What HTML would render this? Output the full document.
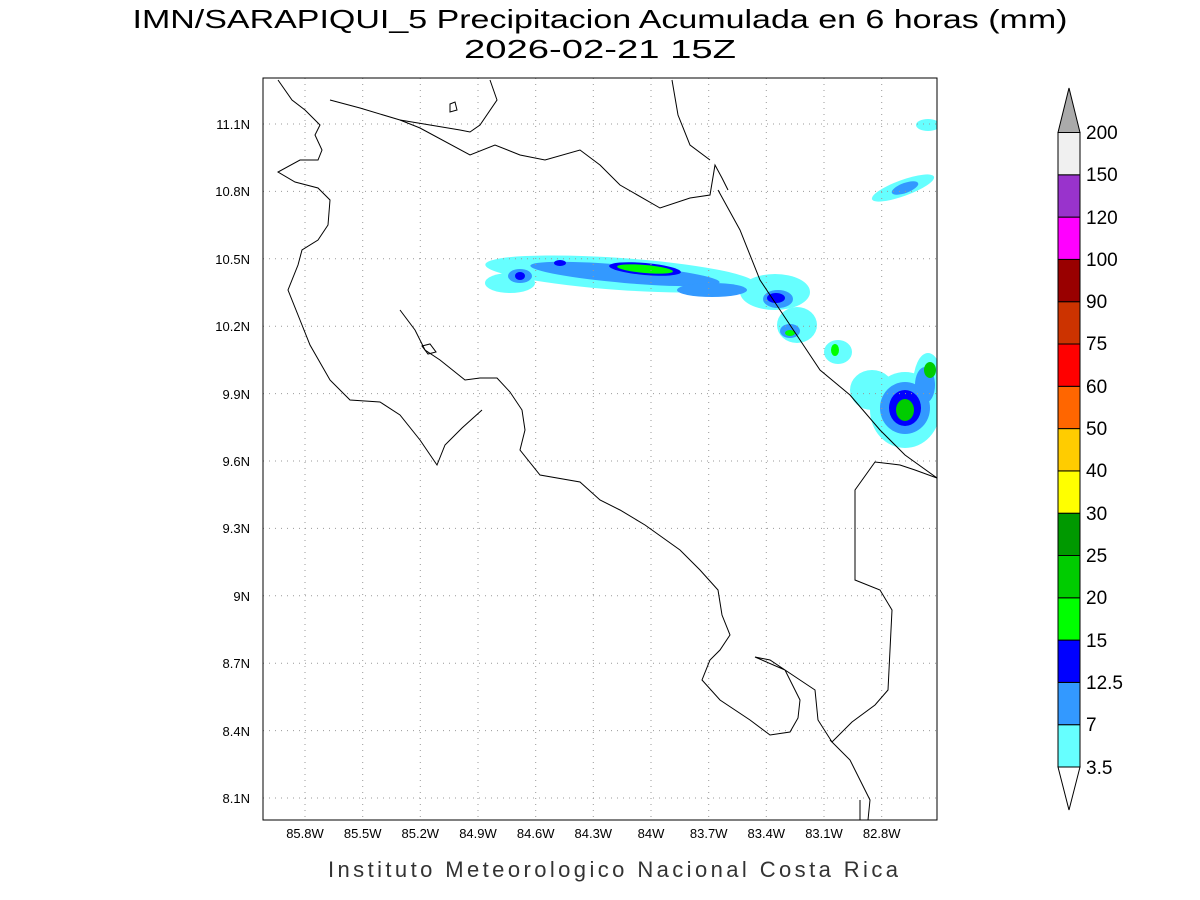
<!DOCTYPE html>
<html><head><meta charset="utf-8"><style>
html,body{margin:0;padding:0;background:#fff;}
svg{display:block;font-family:"Liberation Sans",sans-serif;}
</style></head><body>
<svg width="1200" height="900" viewBox="0 0 1200 900">
<text x="600" y="28" text-anchor="middle" font-size="26" fill="#000" textLength="935" lengthAdjust="spacingAndGlyphs">IMN/SARAPIQUI_5 Precipitacion Acumulada en 6 horas (mm)</text>
<text x="600" y="58" text-anchor="middle" font-size="26" fill="#000" textLength="272" lengthAdjust="spacingAndGlyphs">2026-02-21 15Z</text>
<defs><clipPath id="c"><rect x="263" y="78" width="674" height="742"/></clipPath></defs>
<g clip-path="url(#c)">
<g>
<ellipse cx="620" cy="274" rx="135" ry="16" transform="rotate(4 620 274)" fill="#66ffff"/>
<ellipse cx="510" cy="283" rx="25" ry="10" fill="#66ffff"/>
<ellipse cx="775" cy="292" rx="35" ry="18" fill="#66ffff"/>
<ellipse cx="797" cy="325" rx="20" ry="18" fill="#66ffff"/>
<ellipse cx="838" cy="352" rx="14" ry="12" fill="#66ffff"/>
<ellipse cx="872" cy="390" rx="22" ry="20" fill="#66ffff"/>
<ellipse cx="905" cy="410" rx="35" ry="38" fill="#66ffff"/>
<ellipse cx="928" cy="385" rx="15" ry="32" fill="#66ffff"/>
<ellipse cx="903" cy="188" rx="33" ry="8" transform="rotate(-20 903 188)" fill="#66ffff"/>
<ellipse cx="928" cy="125" rx="12" ry="6" fill="#66ffff"/>
<ellipse cx="625" cy="274" rx="95" ry="9" transform="rotate(5 625 274)" fill="#3399ff"/>
<ellipse cx="520" cy="276" rx="12" ry="7" fill="#3399ff"/>
<ellipse cx="712" cy="290" rx="35" ry="7" fill="#3399ff"/>
<ellipse cx="778" cy="299" rx="15" ry="9" fill="#3399ff"/>
<ellipse cx="790" cy="331" rx="10" ry="7" fill="#3399ff"/>
<ellipse cx="905" cy="408" rx="25" ry="26" fill="#3399ff"/>
<ellipse cx="925" cy="385" rx="10" ry="18" fill="#3399ff"/>
<ellipse cx="905" cy="188" rx="14" ry="5" fill="#3399ff" transform="rotate(-20 905 188)"/>
<ellipse cx="645" cy="269" rx="36" ry="6" transform="rotate(5 645 269)" fill="#0000ff"/>
<ellipse cx="520" cy="276" rx="5" ry="4" fill="#0000ff"/>
<ellipse cx="560" cy="263" rx="6" ry="3" fill="#0000ff"/>
<ellipse cx="776" cy="298" rx="9" ry="5" fill="#0000ff"/>
<ellipse cx="905" cy="408" rx="16" ry="18" fill="#0000ff"/>
<ellipse cx="645" cy="269" rx="28" ry="4" transform="rotate(5 645 269)" fill="#00ff00"/>
<ellipse cx="905" cy="410" rx="9" ry="11" fill="#00cc00"/>
<ellipse cx="835" cy="350" rx="4" ry="6" fill="#00ff00"/>
<ellipse cx="790" cy="333" rx="5" ry="3" fill="#00ff00"/>
<ellipse cx="930" cy="370" rx="6" ry="8" fill="#00cc00"/>
</g>
<g stroke="#999" stroke-width="1" stroke-dasharray="1,5">
<line x1="305" y1="78" x2="305" y2="820"/><line x1="362.7" y1="78" x2="362.7" y2="820"/><line x1="420.3" y1="78" x2="420.3" y2="820"/><line x1="478" y1="78" x2="478" y2="820"/><line x1="535.7" y1="78" x2="535.7" y2="820"/><line x1="593.3" y1="78" x2="593.3" y2="820"/><line x1="651" y1="78" x2="651" y2="820"/><line x1="708.7" y1="78" x2="708.7" y2="820"/><line x1="766.3" y1="78" x2="766.3" y2="820"/><line x1="824" y1="78" x2="824" y2="820"/><line x1="881.7" y1="78" x2="881.7" y2="820"/>
<line x1="263" y1="124" x2="937" y2="124"/><line x1="263" y1="191.4" x2="937" y2="191.4"/><line x1="263" y1="258.8" x2="937" y2="258.8"/><line x1="263" y1="326.2" x2="937" y2="326.2"/><line x1="263" y1="393.6" x2="937" y2="393.6"/><line x1="263" y1="461" x2="937" y2="461"/><line x1="263" y1="528.4" x2="937" y2="528.4"/><line x1="263" y1="595.8" x2="937" y2="595.8"/><line x1="263" y1="663.2" x2="937" y2="663.2"/><line x1="263" y1="730.6" x2="937" y2="730.6"/><line x1="263" y1="798" x2="937" y2="798"/>
</g>
<g fill="none" stroke="#000" stroke-width="1">
<polyline points="278,80 292,100 305,110 320,125 315,135 322,150 318,160 300,160 278,172 295,182 318,188 330,200 328,225 318,240 302,250 298,265 288,290 300,320 310,345 330,380 350,400 380,402 400,415 420,440 437,465 445,445 462,428 482,410"/>
<polyline points="400,310 415,330 425,350 440,360 465,380 480,378 497,378 510,392 522,410 525,430 520,450 540,475 580,482 600,500 620,510 645,525 680,550 700,570 718,590 722,615 730,635 720,650 710,660 702,680 720,700 750,720 770,735 790,732 798,718 800,700 785,670 755,657 770,660 800,680 815,690 818,720 832,742 852,722 875,705 888,690 892,610 880,590 855,580 855,490 875,462 900,465 915,470 937,478"/>
<polyline points="330,100 360,108 400,120 420,128 470,155 495,145 520,155 545,160 580,150 600,165 620,185 660,208 690,198 710,195 715,165 722,178 728,190"/>
<polyline points="490,80 497,100 480,125 470,132 460,130 430,125 400,120"/>
<polyline points="672,80 678,115 690,145 710,160"/>
<polyline points="718,190 740,230 760,280 780,310 800,340 820,370 850,395 880,430 905,455 937,478"/>
<polyline points="830,740 850,760 870,800 868,820"/>
<polyline points="860,800 860,820"/>
<polygon points="422,346 430,344 436,352 428,354"/>
<polygon points="450,104 455,102 457,110 450,112"/>
</g>
</g>
<rect x="263" y="78" width="674" height="742" fill="none" stroke="#000" stroke-width="1"/>
<g font-size="13" fill="#000" text-anchor="end">
<text x="250" y="129">11.1N</text><text x="250" y="196">10.8N</text><text x="250" y="264">10.5N</text><text x="250" y="331">10.2N</text><text x="250" y="399">9.9N</text><text x="250" y="466">9.6N</text><text x="250" y="533">9.3N</text><text x="250" y="601">9N</text><text x="250" y="668">8.7N</text><text x="250" y="736">8.4N</text><text x="250" y="803">8.1N</text>
</g>
<g font-size="13" fill="#000" text-anchor="middle">
<text x="305" y="838">85.8W</text><text x="362.7" y="838">85.5W</text><text x="420.3" y="838">85.2W</text><text x="478" y="838">84.9W</text><text x="535.7" y="838">84.6W</text><text x="593.3" y="838">84.3W</text><text x="651" y="838">84W</text><text x="708.7" y="838">83.7W</text><text x="766.3" y="838">83.4W</text><text x="824" y="838">83.1W</text><text x="881.7" y="838">82.8W</text>
</g>
<text x="613" y="877" text-anchor="middle" font-size="22" fill="#333" textLength="570">Instituto Meteorologico Nacional Costa Rica</text>
<g stroke="#000" stroke-width="1">
<polygon points="1058,767 1080,767 1069,810" fill="#fff"/>
<rect x="1058" y="724.7" width="22" height="42.3" fill="#66ffff"/>
<rect x="1058" y="682.4" width="22" height="42.3" fill="#3399ff"/>
<rect x="1058" y="640.1" width="22" height="42.3" fill="#0000ff"/>
<rect x="1058" y="597.8" width="22" height="42.3" fill="#00ff00"/>
<rect x="1058" y="555.5" width="22" height="42.3" fill="#00cc00"/>
<rect x="1058" y="513.2" width="22" height="42.3" fill="#009900"/>
<rect x="1058" y="470.9" width="22" height="42.3" fill="#ffff00"/>
<rect x="1058" y="428.6" width="22" height="42.3" fill="#ffcc00"/>
<rect x="1058" y="386.3" width="22" height="42.3" fill="#ff6600"/>
<rect x="1058" y="344" width="22" height="42.3" fill="#ff0000"/>
<rect x="1058" y="301.7" width="22" height="42.3" fill="#cc3300"/>
<rect x="1058" y="259.4" width="22" height="42.3" fill="#990000"/>
<rect x="1058" y="217.1" width="22" height="42.3" fill="#ff00ff"/>
<rect x="1058" y="174.8" width="22" height="42.3" fill="#9933cc"/>
<rect x="1058" y="132.5" width="22" height="42.3" fill="#f0f0f0"/>
<polygon points="1058,132.5 1080,132.5 1069,88" fill="#aaaaaa"/>
</g>
<g font-size="19" fill="#000">
<text x="1086" y="774">3.5</text><text x="1086" y="731">7</text><text x="1086" y="689">12.5</text><text x="1086" y="647">15</text><text x="1086" y="604">20</text><text x="1086" y="562">25</text><text x="1086" y="520">30</text><text x="1086" y="477">40</text><text x="1086" y="435">50</text><text x="1086" y="393">60</text><text x="1086" y="350">75</text><text x="1086" y="308">90</text><text x="1086" y="266">100</text><text x="1086" y="224">120</text><text x="1086" y="181">150</text><text x="1086" y="139">200</text>
</g>
</svg>
</body></html>
